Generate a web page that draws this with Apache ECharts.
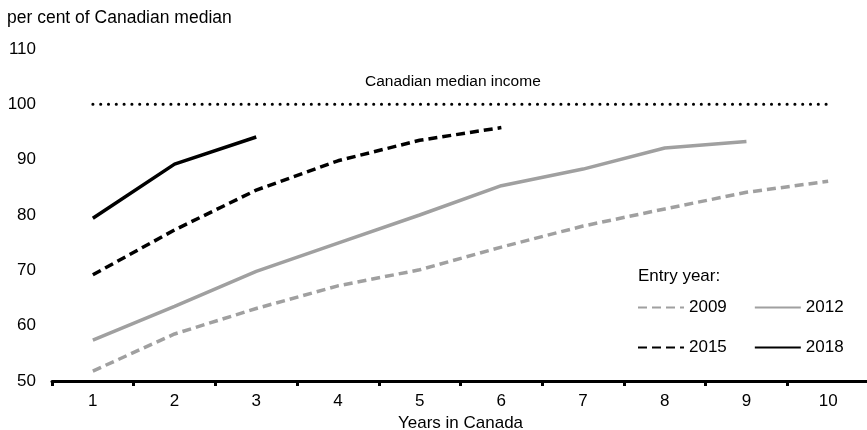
<!DOCTYPE html>
<html>
<head>
<meta charset="utf-8">
<script src="https://cdn.jsdelivr.net/npm/echarts@6/dist/echarts.min.js"></script>
<style>
  html, body { margin: 0; padding: 0; background: #fff; }
  #chart { width: 867px; height: 430px; }
</style>
</head>
<body>
<div id="chart"></div>
<script>
// years in Canada
const years = ['1', '2', '3', '4', '5', '6', '7', '8', '9', '10']
// per cent of Canadian median income, by entry year
const entry2009 = [51.8, 58.5, 63.1, 67.2, 70.1, 74.2, 78.0, 81.1, 84.1, 86.1]
const entry2012 = [57.4, 63.5, 69.8, 74.9, 80.0, 85.3, 88.3, 92.1, 93.3]
const entry2015 = [69.2, 77.3, 84.5, 89.8, 93.5, 95.8]
const entry2018 = [79.4, 89.2, 94.1]
const medianLine = [100, 100, 100, 100, 100, 100, 100, 100, 100, 100]

const font = 'Liberation Sans, Arial, sans-serif'
const grey = '#a0a0a0'

const chart = echarts.init(document.getElementById('chart'))

const legendBase = {
  left: 637,
  padding: 0,
  itemWidth: 46,
  itemHeight: 14,
  itemGap: 27,
  itemStyle: { opacity: 0 }, // hide the symbol, keep the line
  textStyle: { fontFamily: font, fontSize: 17, color: '#000' }
}

chart.setOption({
  animation: false,
  textStyle: { fontFamily: font, color: '#000' },
  title: {
    text: 'per cent of Canadian median',
    left: 2,
    top: 4,
    textStyle: { fontFamily: font, fontSize: 17.5, fontWeight: 'normal', color: '#000' }
  },
  graphic: [
    { // label above the dotted line
      type: 'text',
      left: 365,
      top: 74,
      style: { text: 'Canadian median income', font: '15.5px ' + font, fill: '#000' }
    },
    {
      type: 'text',
      left: 638,
      top: 268,
      style: { text: 'Entry year:', font: '17px ' + font, fill: '#000' }
    }
  ],
  legend: [
    Object.assign({ data: ['2009', '2012'], top: 299 }, legendBase),
    Object.assign({ data: ['2015', '2018'], top: 339 }, legendBase)
  ],
  grid: {
    left: 52,
    top: 49,
    width: 817,
    bottom: 49,
    containLabel: false,
    outerBoundsMode: 'none'
  },
  xAxis: {
    type: 'category',
    data: years,
    name: 'Years in Canada',
    nameLocation: 'middle',
    nameGap: 31,
    nameTextStyle: { fontFamily: font, fontSize: 17, color: '#000' },
    axisLine: { lineStyle: { color: '#000', width: 3 } }, // x轴线
    axisTick: { show: true, length: 5, lineStyle: { color: '#000', width: 3 } },
    axisLabel: { fontFamily: font, fontSize: 17, color: '#000', margin: 12 }
  },
  yAxis: {
    type: 'value',
    min: 50,
    max: 110,
    interval: 10,
    axisLine: { show: false },
    axisTick: { show: false },
    splitLine: { show: false },
    axisLabel: { fontFamily: font, fontSize: 17, color: '#000', margin: 16 }
  },
  series: [
    {
      name: 'median',
      type: 'line',
      data: medianLine,
      symbol: 'none',
      silent: true,
      lineStyle: { color: '#000', width: 3, type: [0.1, 7.7], cap: 'round' }
    },
    {
      name: '2009',
      type: 'line',
      data: entry2009,
      symbol: 'none',
      color: grey,
      lineStyle: { color: grey, width: 3.5, type: [9, 5] }
    },
    {
      name: '2012',
      type: 'line',
      data: entry2012,
      symbol: 'none',
      color: grey,
      lineStyle: { color: grey, width: 3.5 }
    },
    {
      name: '2015',
      type: 'line',
      data: entry2015,
      symbol: 'none',
      color: '#000',
      lineStyle: { color: '#000', width: 3.5, type: [9, 5] }
    },
    {
      name: '2018',
      type: 'line',
      data: entry2018,
      symbol: 'none',
      color: '#000',
      lineStyle: { color: '#000', width: 3.5 }
    }
  ]
})
</script>
</body>
</html>
